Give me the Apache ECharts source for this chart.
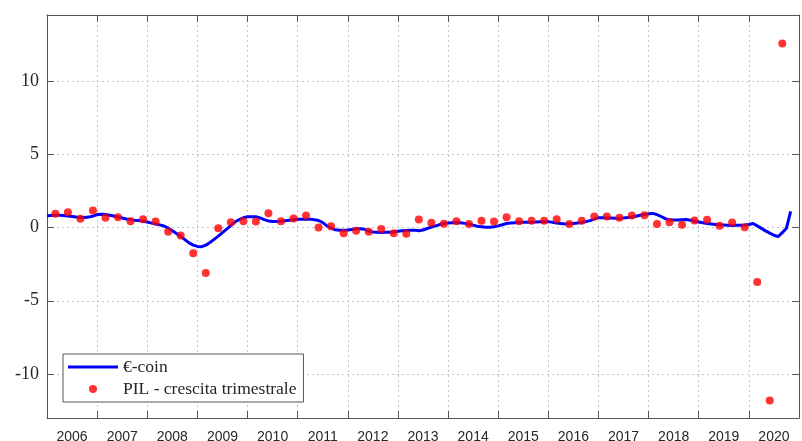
<!DOCTYPE html>
<html>
<head>
<meta charset="utf-8">
<title>€-coin e PIL</title>
<script src="https://cdn.jsdelivr.net/npm/echarts@6/dist/echarts.min.js"></script>
<style>
    html, body { margin: 0; padding: 0; background: #fff; }
    #chart { width: 802px; height: 441px; }
</style>
</head>
<body>
<div id="chart"></div>
<script>
const yearLabels = ["2006", "2007", "2008", "2009", "2010", "2011", "2012", "2013",
    "2014", "2015", "2016", "2017", "2018", "2019", "2020"];

// €-coin, monthly from Jan 2006
const ecoin = [
    0.80, 0.82, 0.84, 0.83, 0.81, 0.79, 0.75, 0.71, 0.68, 0.69, 0.71, 0.78,
    0.88, 0.91, 0.88, 0.83, 0.78, 0.72, 0.65, 0.58, 0.54, 0.50, 0.47, 0.42,
    0.37, 0.30, 0.24, 0.18, 0.10, -0.04, -0.22, -0.41, -0.61, -0.83, -1.05, -1.20,
    -1.29, -1.31, -1.21, -1.02, -0.81, -0.59, -0.35, -0.11, 0.13, 0.37, 0.54, 0.66,
    0.73, 0.74, 0.73, 0.65, 0.54, 0.45, 0.41, 0.41, 0.42, 0.46, 0.50, 0.53,
    0.56, 0.57, 0.57, 0.57, 0.53, 0.48, 0.33, 0.11, -0.04, -0.16, -0.19, -0.18,
    -0.17, -0.13, -0.09, -0.09, -0.12, -0.25, -0.31, -0.33, -0.34, -0.33, -0.32, -0.30,
    -0.26, -0.23, -0.21, -0.19, -0.18, -0.22, -0.17, -0.07, 0.03, 0.11, 0.20, 0.27,
    0.30, 0.32, 0.34, 0.32, 0.28, 0.23, 0.16, 0.09, 0.05, 0.01, 0.01, 0.05,
    0.11, 0.19, 0.27, 0.30, 0.33, 0.36, 0.36, 0.36, 0.36, 0.37, 0.39, 0.40,
    0.40, 0.35, 0.30, 0.27, 0.24, 0.25, 0.28, 0.31, 0.34, 0.40, 0.47, 0.57,
    0.66, 0.67, 0.65, 0.64, 0.63, 0.62, 0.65, 0.68, 0.72, 0.77, 0.83, 0.89,
    0.93, 0.96, 0.88, 0.75, 0.60, 0.52, 0.51, 0.51, 0.53, 0.55, 0.50, 0.44,
    0.38, 0.32, 0.27, 0.24, 0.21, 0.18, 0.17, 0.16, 0.14, 0.15, 0.16, 0.17,
    0.21, 0.27, 0.11, -0.06, -0.23, -0.38, -0.53, -0.62, -0.35, -0.05, 1.10
];

// PIL - crescita trimestrale, Q1 2006 .. Q3 2020
const pil = [
    0.93, 1.04, 0.59, 1.16,
    0.66, 0.70, 0.43, 0.57,
    0.41, -0.29, -0.55, -1.75,
    -3.11, -0.05, 0.36, 0.43,
    0.41, 0.98, 0.43, 0.61,
    0.82, 0.00, 0.09, -0.39,
    -0.23, -0.29, -0.11, -0.39,
    -0.43, 0.55, 0.32, 0.25,
    0.43, 0.23, 0.46, 0.41,
    0.70, 0.43, 0.46, 0.46,
    0.57, 0.23, 0.46, 0.75,
    0.75, 0.66, 0.82, 0.84,
    0.23, 0.36, 0.18, 0.48,
    0.52, 0.12, 0.34, 0.02,
    -3.72, -11.8, 12.55
];

const yTicks = [-10, -5, 0, 5, 10];

const axisColor = "#555";
const textColor = "#262626";
const axisLine = { show: true, onZero: false, lineStyle: { color: axisColor, width: 1 } };
const gridLine = { show: true, lineStyle: { color: "#c4c4c4", type: [2, 3], width: 1 } };
const insideTick = { show: true, inside: true, length: 7, lineStyle: { color: axisColor } };
const yTickOpts = Object.assign({}, insideTick, { customValues: yTicks });

// x in months since Jan 2006; quarterly values sit on the last month of the quarter
const lineData = ecoin.map((v, i) => [i, v]);
const dotData = pil.map((v, i) => [2 + 3 * i, v]);

const chart = echarts.init(document.getElementById("chart"), null, { renderer: "canvas" });

chart.setOption({
    animation: false,
    backgroundColor: "#fff",
    grid: { left: 47, right: 3, top: 15, bottom: 23, containLabel: false, outerBoundsMode: "none" },
    xAxis: [
        {
            type: "value", min: 0, max: 180, interval: 12, position: "bottom",
            axisLine: axisLine,
            axisTick: insideTick,
            axisLabel: { show: false },
            splitLine: gridLine
        },
        {
            type: "category", data: yearLabels, position: "bottom", boundaryGap: true,
            axisLine: { show: false, onZero: false }, axisTick: { show: false }, splitLine: { show: false },
            axisLabel: { show: true, margin: 12, color: textColor, fontFamily: "Liberation Sans", fontSize: 14 }
        },
        {
            type: "value", min: 0, max: 180, interval: 12, position: "top",
            axisLine: axisLine,
            axisTick: insideTick,
            axisLabel: { show: false },
            splitLine: { show: false }
        }
    ],
    yAxis: [
        {
            type: "value", min: -13, max: 14.5, position: "left",
            axisLine: axisLine,
            axisTick: yTickOpts,
            axisLabel: {
                show: true, margin: 8, color: textColor, fontFamily: "Liberation Serif", fontSize: 18,
                customValues: yTicks
            },
            splitLine: gridLine
        },
        {
            type: "value", min: -13, max: 14.5, position: "right",
            axisLine: axisLine,
            axisTick: yTickOpts,
            axisLabel: { show: false },
            splitLine: { show: false }
        }
    ],
    legend: {
        orient: "vertical",
        left: 63,
        top: 354,
        backgroundColor: "#fff",
        borderColor: axisColor,
        borderWidth: 1,
        borderRadius: 0,
        padding: [3, 7, 3, 5],
        itemWidth: 50,
        itemHeight: 8,
        itemGap: 2,
        textStyle: { color: textColor, fontFamily: "Liberation Serif", fontSize: 17.5, lineHeight: 20 },
        data: [
            { name: "€-coin", icon: "path://M0,0H50V3H0Z" },
            { name: "PIL - crescita trimestrale", icon: "circle" }
        ]
    },
    series: [
        {
            name: "€-coin",
            type: "line",
            xAxisIndex: 0,
            yAxisIndex: 0,
            data: lineData,
            symbol: "none",
            lineStyle: { color: "#0000ff", width: 3 },
            itemStyle: { color: "#0000ff" },
            z: 2
        },
        {
            name: "PIL - crescita trimestrale",
            type: "scatter",
            xAxisIndex: 0,
            yAxisIndex: 0,
            data: dotData,
            symbol: "circle",
            symbolSize: 8,
            itemStyle: { color: "#ff0000" },
            z: 3
        }
    ]
});
</script>
</body>
</html>
